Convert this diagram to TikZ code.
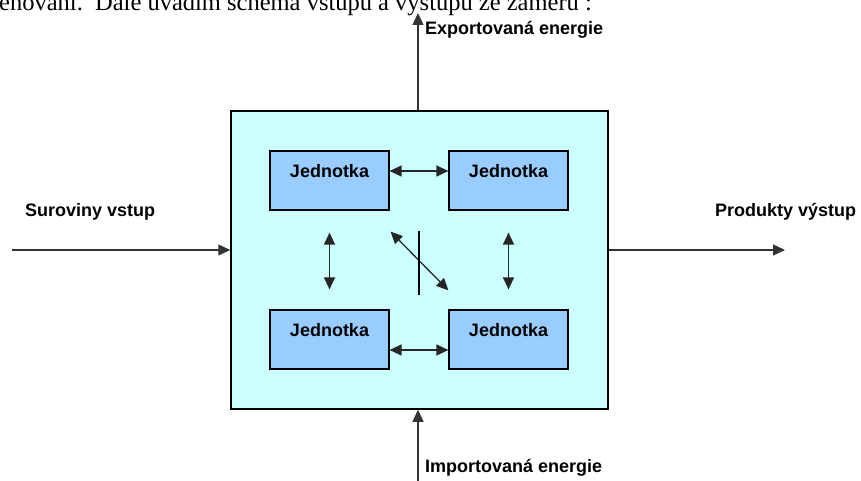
\documentclass[tikz,border=0pt]{standalone}
\usepackage{fontspec}
\usetikzlibrary{arrows.meta}
\newfontfamily\labelfont{Liberation Sans}
\newfontfamily\bodyfont{Liberation Serif}
\definecolor{boxcyan}{HTML}{CCFFFF}
\definecolor{unitblue}{HTML}{99CCFF}
\tikzset{
  unit/.style={draw, line width=1.2pt, fill=unitblue, minimum width=119pt, minimum height=59pt, inner sep=0pt},
  unitlbl/.style={anchor=center, yshift=-21pt, font=\labelfont\bfseries\fontsize{18}{20}\selectfont},
  lbl/.style={font=\labelfont\bfseries\fontsize{18}{20}\selectfont, inner sep=0pt},
  arr/.style={-{Triangle[length=12pt,width=11pt]}, line width=1.3pt, black!80},
  darr/.style={{Triangle[length=12pt,width=11pt]}-{Triangle[length=12pt,width=11pt]}, line width=1.3pt, black!85},
}
\begin{document}
\begin{tikzpicture}[x=1pt, y=-1pt]
  \useasboundingbox (0,0) rectangle (861,481);
  \clip (0,0) rectangle (861,481);
  % cut line of the text above the scheme
  \node[anchor=base west, inner sep=0pt, font=\bodyfont\fontsize{24.5}{26}\selectfont] (textline) at (-1,11) {enování.\ \ Dále uvádím schéma vstupů a výstupů ze záměru :};

  \node[draw, line width=1.5pt, fill=boxcyan, minimum width=377pt, minimum height=298pt, inner sep=0pt] (main) at (419.5,260) {};

  \node[unit, label={[unitlbl]north:Jednotka}] (u1) at (329.5,180.5) {};
  \node[unit, label={[unitlbl]north:Jednotka}] (u2) at (508.5,180.5) {};
  \node[unit, label={[unitlbl]north:Jednotka}] (u3) at (329.5,339.5) {};
  \node[unit, label={[unitlbl]north:Jednotka}] (u4) at (508.5,339.5) {};

  \draw[darr] ([yshift=9.5pt]u1.east) -- ([yshift=9.5pt]u2.west);
  \draw[darr] ([yshift=-10.5pt]u3.east) -- ([yshift=-10.5pt]u4.west);
  \draw[darr] ([yshift=-22pt]u1.south) -- ([yshift=20pt]u3.north);
  \draw[darr] ([yshift=-22pt]u2.south) -- ([yshift=20pt]u4.north);
  \draw[darr] ([xshift=1pt,yshift=-21pt]u1.south east) -- ([yshift=19pt]u4.north west);
  \coordinate (barT) at (419,231);
  \coordinate (barB) at (419,295);
  \draw[line width=1.3pt] (barT) -- (barB);

  % inputs and outputs
  \coordinate (inS) at (12,250);
  \coordinate (outE) at (785,250);
  \coordinate (expT) at (418,13);
  \coordinate (impB) at (418,481);
  \draw[arr] (inS) -- (inS -| main.west);
  \draw[arr] (outE -| main.east) -- (outE);
  \draw[arr] (expT |- main.north) -- (expT);
  \draw[arr] (impB) -- (impB |- main.south);

  \node[lbl, anchor=west] (surov) at (25,212) {Suroviny vstup};
  \node[lbl, anchor=west] (prod) at (715,212) {Produkty výstup};
  \node[lbl, anchor=west] (export) at (425,30) {Exportovaná energie};
  \node[lbl, anchor=west] (import) at (425,468) {Importovaná energie};
\end{tikzpicture}
\end{document}
